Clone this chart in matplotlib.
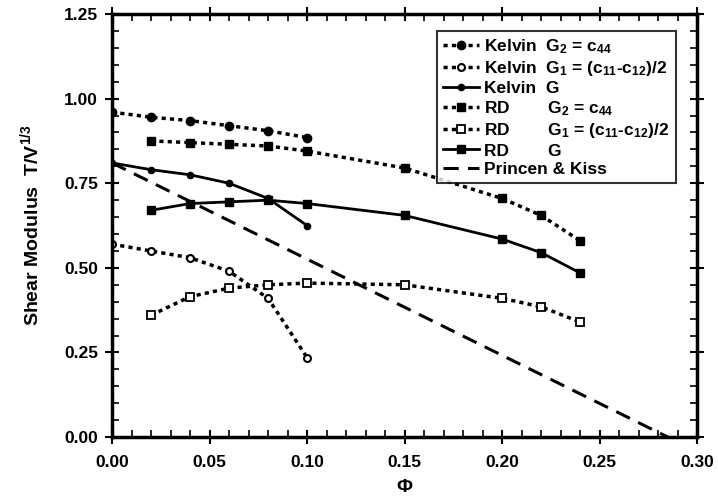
import numpy as np
import matplotlib
matplotlib.use("Agg")
from matplotlib import pyplot as plt
from matplotlib.ticker import MultipleLocator, FormatStrFormatter

plt.rcParams["font.family"] = ["Liberation Sans", "DejaVu Sans"]
plt.rcParams["font.weight"] = "bold"
plt.rcParams["mathtext.default"] = "regular"

# Kelvin structure
phi_kelvin = [0.0, 0.02, 0.04, 0.06, 0.08, 0.10]
kelvin_g2 = [0.96, 0.945, 0.935, 0.92, 0.905, 0.885]
kelvin_g1 = [0.57, 0.55, 0.53, 0.49, 0.41, 0.235]
kelvin_g = [0.81, 0.79, 0.775, 0.75, 0.705, 0.625]

# RD structure
phi_rd = [0.02, 0.04, 0.06, 0.08, 0.10, 0.15, 0.20, 0.22, 0.24]
rd_g2 = [0.875, 0.87, 0.865, 0.86, 0.845, 0.795, 0.705, 0.655, 0.58]
rd_g1 = [0.36, 0.415, 0.44, 0.45, 0.455, 0.45, 0.41, 0.385, 0.34]
rd_g = [0.67, 0.69, 0.695, 0.70, 0.69, 0.655, 0.585, 0.545, 0.485]

# Princen & Kiss line
phi_pk = [0.0, 0.285]
pk = [0.81, 0.0]

labels = ["Kelvin  G$_2$ = c$_{44}$",
          "Kelvin  G$_1$ = (c$_{11}$-c$_{12}$)/2",
          "Kelvin  G",
          "RD        G$_2$ = c$_{44}$",
          "RD        G$_1$ = (c$_{11}$-c$_{12}$)/2",
          "RD        G",
          "Princen & Kiss"]

dots = (0, (1.2, 1.2))
fig = plt.figure(figsize=(7.18, 4.99), dpi=100)
ax = fig.add_axes([0.156, 0.124, 0.815, 0.848])

ax.plot(phi_kelvin, kelvin_g2, color="black", ls=dots, lw=2.5,
        marker="o", ms=6, label=labels[0])
ax.plot(phi_kelvin, kelvin_g1, color="black", ls=dots, lw=2.5,
        marker="o", ms=5, mfc="white", mew=1.5, label=labels[1])
ax.plot(phi_kelvin, kelvin_g, color="black", ls="-", lw=2,
        marker="o", ms=4.5, label=labels[2])
ax.plot(phi_rd, rd_g2, color="black", ls=dots, lw=2.5,
        marker="s", ms=6, label=labels[3])
ax.plot(phi_rd, rd_g1, color="black", ls=dots, lw=2.5,
        marker="s", ms=6, mfc="white", mew=1.3, label=labels[4])
ax.plot(phi_rd, rd_g, color="black", ls="-", lw=2,
        marker="s", ms=5.5, label=labels[5])
ax.plot(phi_pk, pk, color="black", ls=(0, (5, 3)), lw=2.2, label=labels[6])

ax.set_xlim(0, 0.30)
ax.set_ylim(0, 1.25)
ax.xaxis.set_major_locator(MultipleLocator(0.05))
ax.xaxis.set_minor_locator(MultipleLocator(0.01))
ax.yaxis.set_major_locator(MultipleLocator(0.25))
ax.yaxis.set_minor_locator(MultipleLocator(0.05))
ax.xaxis.set_major_formatter(FormatStrFormatter("%.2f"))
ax.yaxis.set_major_formatter(FormatStrFormatter("%.2f"))

ax.tick_params(which="major", direction="inout", length=10, width=1.5,
               labelsize=12.5, top=True, right=True)
ax.tick_params(axis="x", which="major", pad=8)
ax.tick_params(axis="y", which="major", pad=5)
ax.tick_params(which="minor", direction="in", length=5, width=1.2,
               top=True, right=True)
for sp in ax.spines.values():
    sp.set_linewidth(2.5)

ax.set_xlabel("$\\Phi$", fontsize=14, fontweight="bold", labelpad=6)
ax.set_ylabel("Shear Modulus  T/V$^{1/3}$", fontsize=14, fontweight="bold",
              labelpad=16)

leg = ax.legend(loc="upper right", bbox_to_anchor=(0.978, 0.98),
                fontsize=12.5, frameon=True, fancybox=False, handlelength=2.1,
                handletextpad=0.3, labelspacing=0.18, borderpad=0.35,
                edgecolor="black")
leg.get_frame().set_linewidth(1.5)

fig.savefig("out.png", dpi=100)
